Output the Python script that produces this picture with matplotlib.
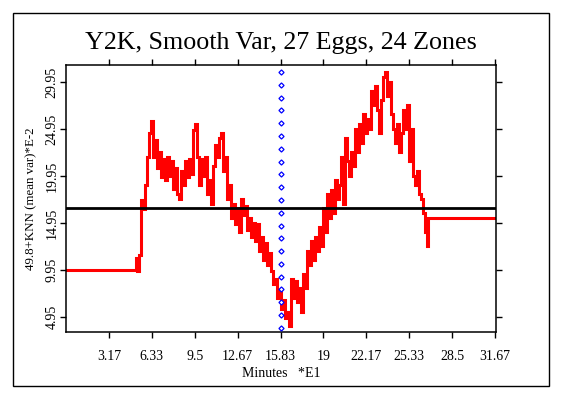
import numpy as np
import matplotlib
matplotlib.use('Agg')
import matplotlib.pyplot as plt
from matplotlib.patches import Rectangle

plt.rcParams['font.family'] = ['Liberation Serif', 'DejaVu Serif']

# ---- data ----
baseline_value = 10.0      # flat level before the series starts
baseline_end = 5.09
series_start = 5.17
series_end = 26.72
tail_value = 15.5          # flat level after the series ends
mean_level = 16.55         # black horizontal reference line
event_time = 15.83         # blue dotted marker (midnight)
event_top = 31.0
event_bottom = 3.8
event_count = 21

series_values = [
    11.2, 9.8, 11.5,
    17.4, 16.4, 19.0, 22.0, 24.5,
    25.8, 22.0, 23.8, 20.8, 22.5,
    19.8, 21.8, 19.5, 22.0, 20.0,
    21.5, 18.6, 20.8, 18.0, 17.5,
    20.5, 19.0, 21.5, 19.8, 21.8,
    20.2, 24.8, 25.5, 22.0, 19.0,
    21.8, 20.0, 22.0, 18.0, 19.5,
    17.0, 21.0, 23.2, 22.0, 24.0,
    24.5, 20.5, 22.0, 17.5, 19.0,
    15.5, 17.0, 14.8, 16.5, 14.0,
    17.5, 15.8, 16.8, 14.2, 15.5,
    13.5, 15.0, 13.0, 14.8, 12.0,
    13.5, 11.0, 12.8, 10.5, 11.8,
    9.8, 8.5, 9.0, 7.0, 7.8,
    5.8, 6.8, 4.8, 5.5, 4.0,
    9.0, 7.0, 8.8, 6.5, 8.0,
    5.5, 9.5, 8.0, 12.0, 10.5,
    13.0, 11.0, 13.5, 12.0, 14.5,
    12.5, 16.5, 14.0, 18.0, 15.5,
    18.5, 16.0, 19.5, 17.5, 19.0,
    22.0, 17.0, 24.0, 21.5, 20.0,
    22.5, 21.0, 25.0, 22.5, 25.5,
    23.5, 26.5, 24.5, 26.0, 25.0,
    29.0, 27.5, 29.5, 27.0, 24.5,
    28.0, 30.5, 31.0, 28.5, 30.0,
    26.5, 25.0, 23.5, 25.5, 22.5,
    24.5, 27.0, 25.0, 27.5, 21.5,
    25.0, 20.0, 19.0, 20.5, 18.0,
    17.5, 16.0, 14.0, 12.5,
]

x_ticks = [3.1667, 6.3333, 9.5, 12.6667, 15.8333, 19.0, 22.1667, 25.3333, 28.5, 31.6667]
x_tick_labels = ["3.17", "6.33", "9.5", "12.67", "15.83", "19", "22.17", "25.33", "28.5", "31.67"]
y_ticks = [4.95, 9.95, 14.95, 19.95, 24.95, 29.95]
y_tick_labels = ["4.95", "9.95", "14.95", "19.95", "24.95", "29.95"]

x_min, x_max = 0.0, 31.73
y_min, y_max = 3.35, 31.76

title = "Y2K, Smooth Var, 27 Eggs, 24 Zones"
x_label = "Minutes   *E1"
y_label = "49.8+KNN (mean var)*E-2"

# ---- figure ----
W, H = 563, 396
fig = plt.figure(figsize=(W / 100, H / 100), dpi=100)
ax = fig.add_axes([66 / W, 1 - 332 / H, (496 - 66) / W, (332 - 65) / H])

xs = np.linspace(series_start, series_end, len(series_values))
line_x = np.concatenate([[x_min, baseline_end], xs, [series_end, x_max]])
line_y = np.concatenate([[baseline_value, baseline_value], series_values,
                         [tail_value, tail_value]])
ax.plot(line_x, line_y, color='#ff0000', lw=2.2, drawstyle='steps-mid',
        solid_joinstyle='miter', zorder=2)

ax.axhline(mean_level, color='black', lw=2.0, zorder=3)

ev_y = np.linspace(event_bottom, event_top, event_count)
ax.plot(np.full_like(ev_y, event_time), ev_y, linestyle='none', marker='D',
        markersize=2.6, mfc='white', mec='#0000ff', mew=0.9, zorder=4)

ax.set_xlim(x_min, x_max)
ax.set_ylim(y_min, y_max)

ax.set_xticks(x_ticks)
ax.set_xticklabels(x_tick_labels, fontsize=10)
ax.set_yticks(y_ticks)
ax.set_yticklabels(y_tick_labels, fontsize=10, rotation=90, va='center')

ax.tick_params(axis='both', direction='out', length=4, width=1,
               top=True, right=True, labeltop=False, labelright=False)
ax.tick_params(axis='x', pad=9)
ax.tick_params(axis='y', pad=1.5)
# tick at 19 drawn in grey as in the reference
for tick, val in zip(ax.xaxis.get_major_ticks(), x_ticks):
    if abs(val - 19.0) < 1e-6:
        tick.tick1line.set_color('#888888')
        tick.tick2line.set_color('#888888')

for s in ax.spines.values():
    s.set_linewidth(1.1)

ax.set_xlabel(x_label, fontsize=10, labelpad=3)
ax.set_ylabel(y_label, fontsize=9.3, labelpad=6)

fig.text(0.5 * (66 + 496) / W, 1 - 43 / H, title, fontsize=18.7,
         ha='center', va='center')

fig.add_artist(Rectangle((13 / W, 1 - 386 / H), (549 - 13) / W, (386 - 13) / H,
                         transform=fig.transFigure, fill=False, lw=1.0,
                         ec='black'))

fig.savefig('out.png', dpi=100)
